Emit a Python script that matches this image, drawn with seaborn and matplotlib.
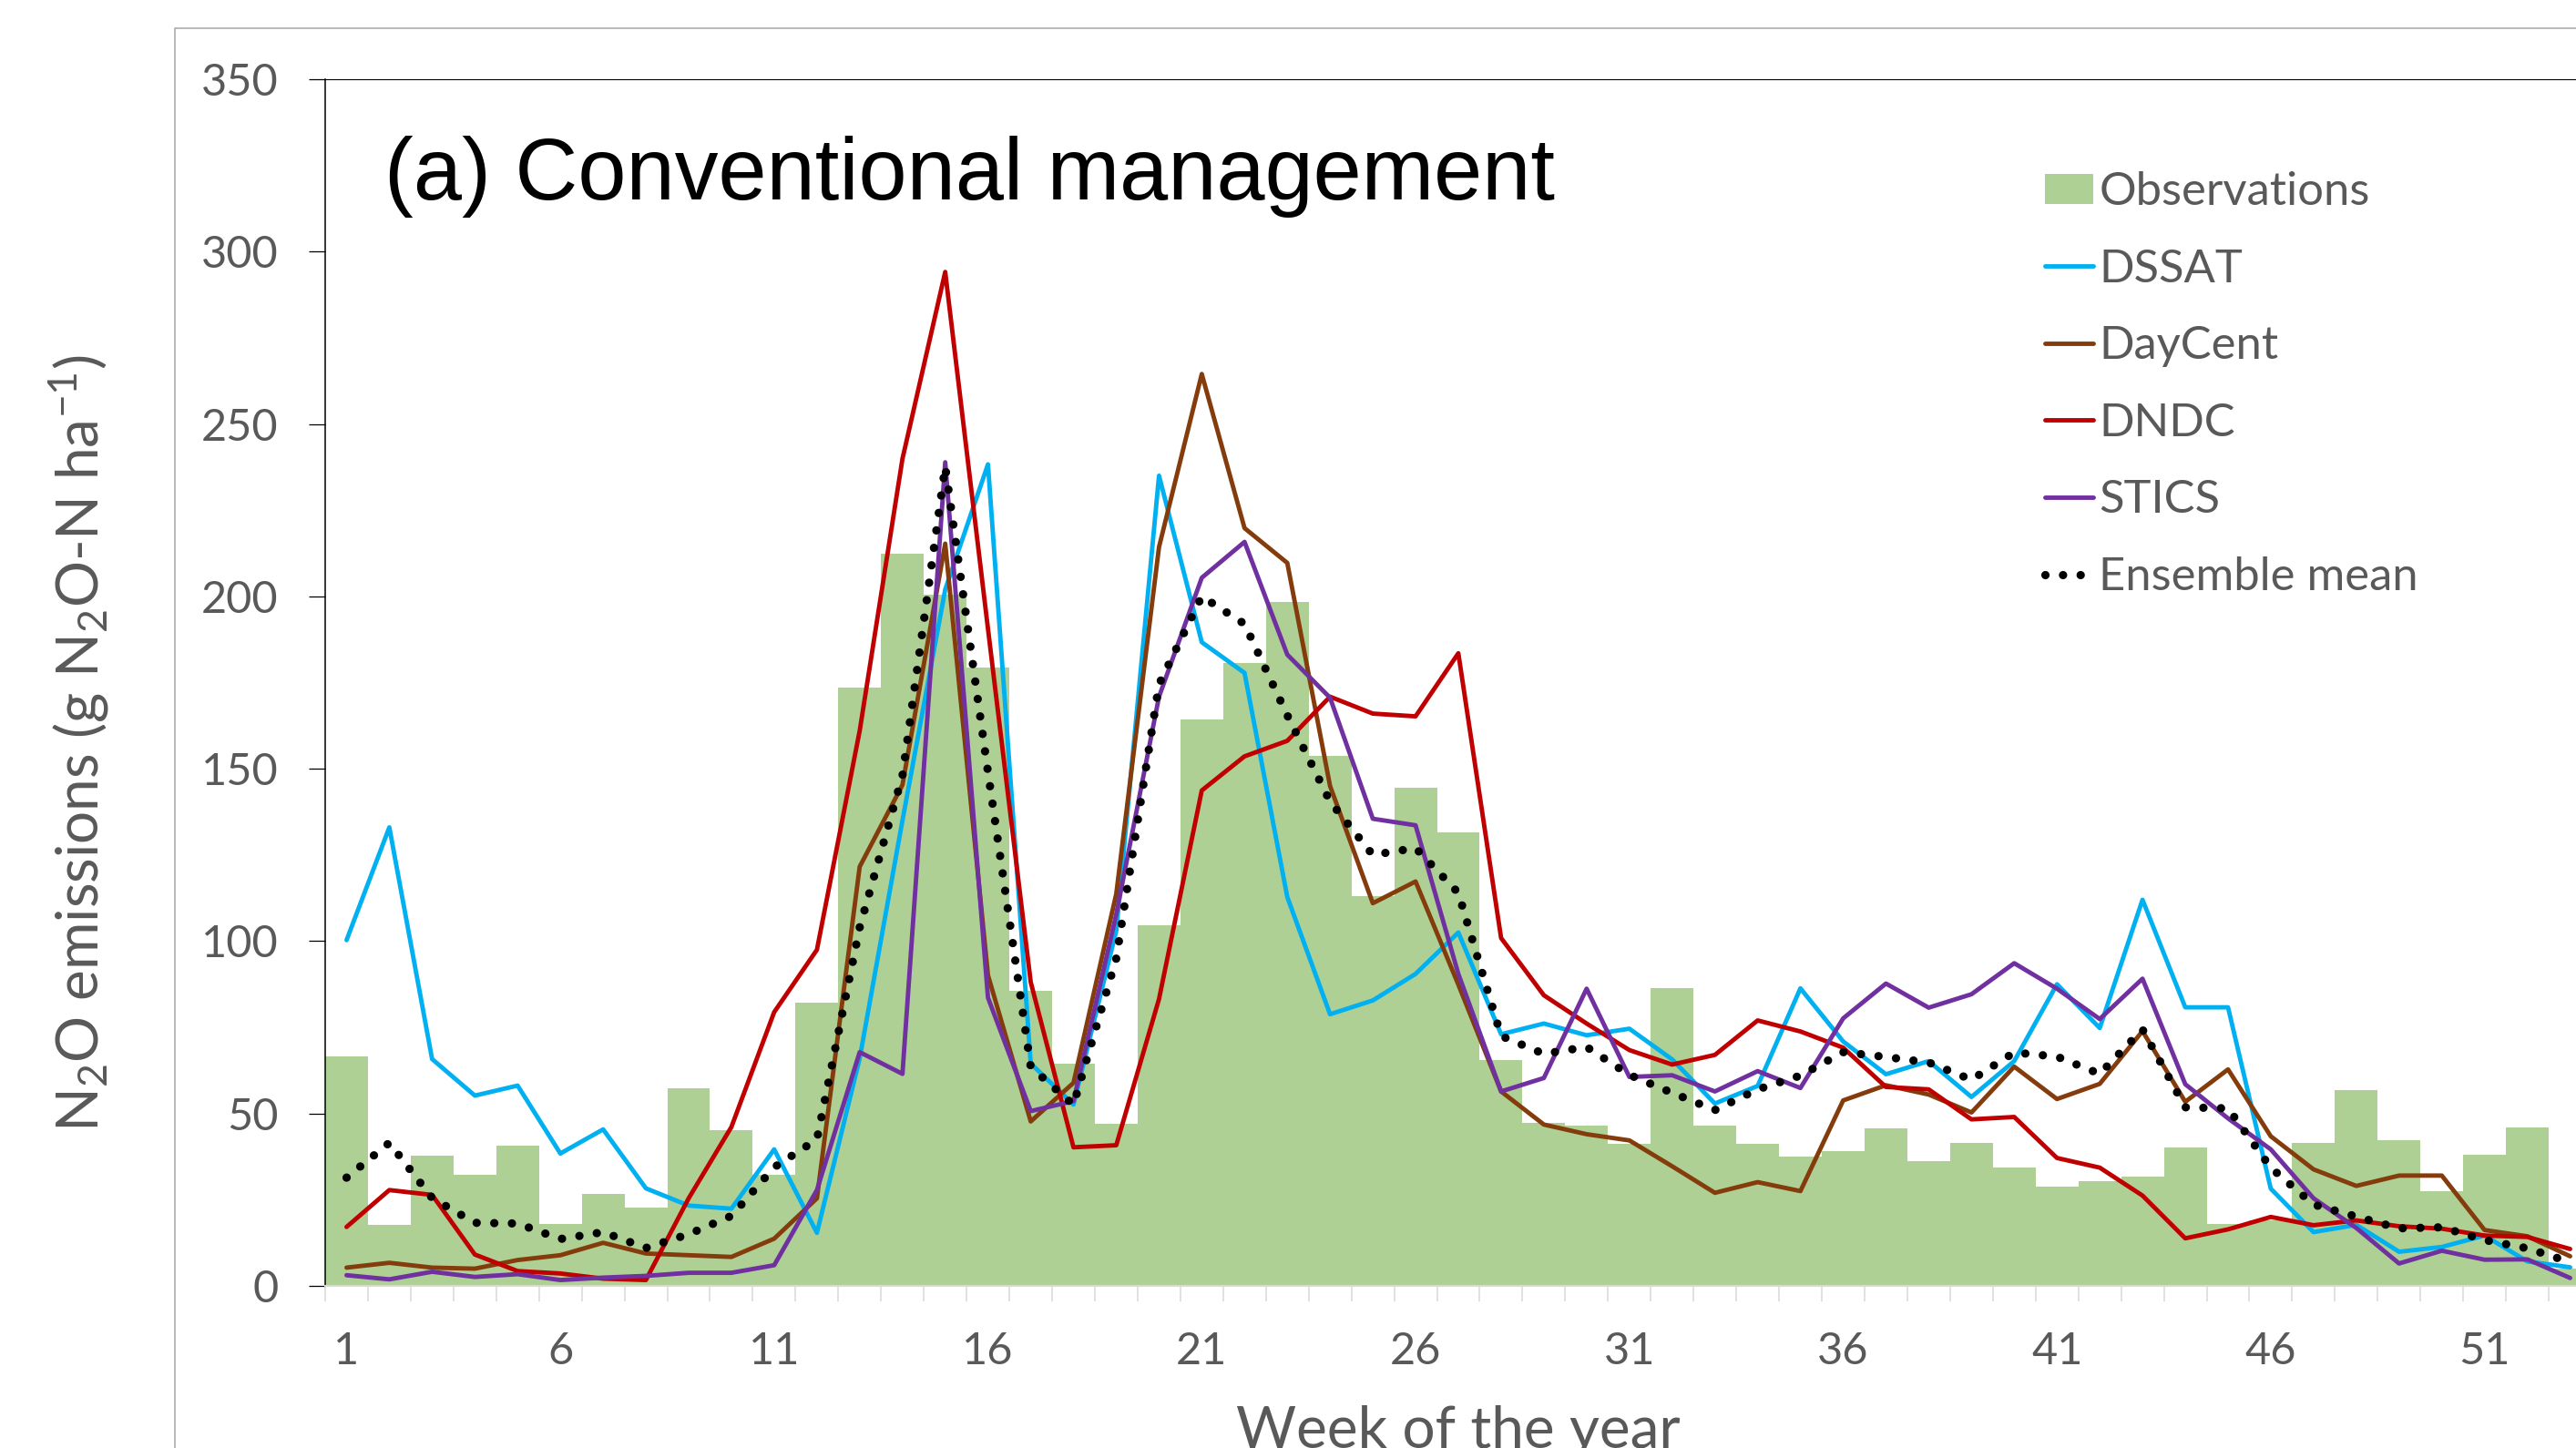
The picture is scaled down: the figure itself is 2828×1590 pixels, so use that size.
import numpy as np
import pandas as pd
import matplotlib
matplotlib.use("Agg")
import matplotlib.pyplot as plt
import seaborn as sns
from matplotlib.lines import Line2D

# ---------------- data ----------------
weeks = list(range(1, 54))
week_ticks = [1, 6, 11, 16, 21, 26, 31, 36, 41, 46, 51]

observations = [66.5, 17.8, 37.8, 32.1, 40.8, 18.0, 26.8, 22.6, 57.2, 45.3,
                32.1, 82.2, 173.5, 212.3, 200.5, 179.4, 85.7, 64.5, 47.1, 104.5,
                164.2, 180.8, 198.5, 153.8, 113.0, 144.5, 131.6, 65.6, 47.4, 46.5,
                41.2, 86.3, 46.5, 41.2, 37.4, 39.0, 45.7, 36.2, 41.4, 34.4,
                28.7, 30.5, 31.7, 40.2, 18.0, 19.0, 41.5, 56.7, 42.2, 27.6,
                38.1, 46.0, 5.0]

dssat = [100.3, 133.0, 65.8, 55.2, 58.1, 38.4, 45.4, 28.3, 23.3, 22.4,
         39.6, 15.4, 66.0, 135.0, 202.0, 238.3, 64.5, 52.6, 103.0, 235.0,
         186.7, 177.8, 112.8, 78.8, 82.8, 90.5, 102.5, 73.0, 76.1, 72.7,
         74.6, 65.7, 52.9, 58.0, 86.3, 70.9, 61.4, 65.2, 54.8, 65.2,
         87.5, 74.8, 112.0, 80.8, 80.8, 28.2, 15.6, 17.7, 9.9, 11.3,
         14.6, 7.1, 5.4]

daycent = [5.3, 6.7, 5.3, 5.0, 7.5, 8.9, 12.5, 9.4, 8.9, 8.4,
           13.7, 25.4, 121.6, 145.3, 215.3, 90.1, 47.7, 58.9, 113.7, 214.3,
           264.5, 219.8, 209.7, 145.0, 111.0, 117.3, 87.4, 56.4, 46.8, 44.0,
           42.2, 34.7, 27.0, 30.1, 27.5, 53.8, 58.2, 55.5, 50.3, 63.6,
           54.2, 58.6, 73.9, 53.4, 62.8, 43.4, 33.8, 29.0, 32.0, 32.0,
           16.2, 14.4, 8.6]

dndc = [17.1, 27.8, 26.4, 9.1, 4.3, 3.6, 2.1, 1.7, 25.4, 46.1,
        79.4, 97.5, 161.0, 239.9, 294.1, 190.6, 88.1, 40.2, 40.8, 83.2,
        143.7, 153.6, 158.1, 170.9, 166.0, 165.2, 183.5, 100.9, 84.3, 76.1,
        68.4, 64.2, 67.0, 77.0, 73.8, 69.1, 57.7, 57.0, 48.3, 49.0,
        37.1, 34.3, 26.2, 13.8, 16.4, 20.0, 17.6, 19.0, 17.3, 16.6,
        14.6, 14.2, 10.7]

stics = [3.1, 1.9, 4.1, 2.6, 3.4, 1.7, 2.4, 2.9, 3.8, 3.8,
         6.0, 27.8, 67.8, 61.5, 238.9, 83.6, 50.7, 53.6, 107.8, 170.9,
         205.4, 215.8, 183.1, 170.6, 135.5, 133.6, 90.5, 56.4, 60.3, 86.2,
         60.6, 61.1, 56.4, 62.3, 57.4, 77.6, 87.7, 80.7, 84.6, 93.6,
         86.2, 77.4, 89.1, 58.5, 48.6, 39.6, 25.4, 16.8, 6.5, 10.2,
         7.6, 7.7, 2.3]

ensemble_mean = [31.4, 41.5, 25.5, 18.3, 18.1, 13.6, 15.6, 11.0, 15.0, 20.3,
                 34.4, 42.5, 104.0, 148.0, 237.7, 149.0, 63.5, 52.5, 95.0, 174.5,
                 200.0, 192.0, 165.5, 140.5, 125.0, 127.0, 114.0, 72.5, 67.3, 69.3,
                 61.2, 56.0, 51.0, 57.0, 61.0, 67.8, 66.4, 64.8, 59.8, 67.7,
                 66.5, 61.5, 74.4, 51.8, 51.5, 34.3, 23.6, 20.1, 16.7, 17.0,
                 13.3, 10.9, 6.9]

series_names = ["DSSAT", "DayCent", "DNDC", "STICS"]
series_values = [dssat, daycent, dndc, stics]
series_colors = ["#00B0F0", "#843C0C", "#C00000", "#7030A0"]
OBS_COLOR = "#AFD095"
GRAY = "#595959"

# ---------------- style ----------------
sns.set_theme(style="white")
plt.rcParams["font.family"] = ["Lato", "DejaVu Sans"]
plt.rcParams["mathtext.fontset"] = "custom"
plt.rcParams["mathtext.rm"] = "Lato"
plt.rcParams["mathtext.it"] = "Lato:italic"
plt.rcParams["mathtext.bf"] = "Lato:bold"
plt.rcParams["mathtext.default"] = "regular"

W, H = 2828, 1590
fig = plt.figure(figsize=(W / 100, H / 100), dpi=100)
fig.patch.set_facecolor("white")

# axes: left=357px, bottom=1412px, top=87px, right runs past the image edge
ax = fig.add_axes([357 / W, 1 - 1412 / H, 2488 / W, 1325 / H])
ax.set_facecolor("white")

df = pd.DataFrame({"week": weeks, "obs": observations})
sns.barplot(data=df, x="week", y="obs", native_scale=True, width=1.0,
            color=OBS_COLOR, saturation=1, linewidth=0, errorbar=None,
            ax=ax, label="Observations", zorder=1)

for name, vals, col in zip(series_names, series_values, series_colors):
    sns.lineplot(x=weeks, y=vals, color=col, linewidth=3.5, ax=ax,
                 label=name, zorder=3)

sns.lineplot(x=weeks, y=ensemble_mean, color="black", linewidth=6.6,
             linestyle=(0, (0.01, 2.1)), dash_capstyle="round", ax=ax,
             label="Ensemble mean", zorder=4)

ax.set_xlim(0.5, 53.5)
ax.set_ylim(0, 350)
ax.set_xlabel("")
ax.set_ylabel("")

ax.set_xticks(week_ticks)
ax.set_xticklabels([str(t) for t in week_ticks])
ax.set_xticks(np.arange(0.5, 54.0, 1.0), minor=True)
ax.tick_params(axis="x", which="major", bottom=True, length=0, pad=36,
               labelsize=35, labelcolor=GRAY)
ax.tick_params(axis="x", which="minor", bottom=True, length=12.5, width=1.1,
               color="#D9D9D9", direction="out")
ax.set_yticks(list(range(0, 351, 50)))
ax.tick_params(axis="y", which="major", left=True, length=13, width=0.9,
               color="black", direction="out", pad=24, labelsize=35,
               labelcolor=GRAY)
ax.tick_params(axis="y", which="minor", left=False)

ax.spines["right"].set_visible(False)
ax.spines["left"].set_color("black")
ax.spines["left"].set_linewidth(1.1)
ax.spines["top"].set_color("black")
ax.spines["top"].set_linewidth(0.8)
ax.spines["bottom"].set_color("#D9D9D9")
ax.spines["bottom"].set_linewidth(1.5)

# legend
handles, labels = ax.get_legend_handles_labels()
lookup = dict(zip(labels, handles))
order = ["Observations"] + series_names + ["Ensemble mean"]
leg = ax.legend([lookup[k] for k in order], order, loc="upper left",
                bbox_to_anchor=(2245 / W, 1 - 188 / H),
                bbox_transform=fig.transFigure, frameon=False, fontsize=36.5,
                handlelength=1.05, handleheight=0.62, handletextpad=0.12,
                labelspacing=0.76, borderpad=0, borderaxespad=0,
                labelcolor=GRAY)

# title inside plot
fig.text(422 / W, 1 - 219 / H, "(a) Conventional management", fontsize=68.8,
         family=["Liberation Sans", "DejaVu Sans"], color="black",
         ha="left", va="baseline")

# axis titles
fig.text(87 / W, 1 - 816 / H, r"N$_2$O emissions (g N$_2$O-N ha$^{-1}$)",
         rotation=90, ha="center", va="center", fontsize=46, color=GRAY)
fig.text(1601 / W, 0.0, "Week of the year", ha="center", va="baseline",
         fontsize=46, color=GRAY)

# outer chart-area border (cropped)
fig.add_artist(Line2D([192 / W, 192 / W, 1.01], [-0.01, 1 - 31 / H, 1 - 31 / H],
                      transform=fig.transFigure, color="#A6A6A6", lw=1.1))

fig.savefig("out.png", dpi=100, facecolor="white")
